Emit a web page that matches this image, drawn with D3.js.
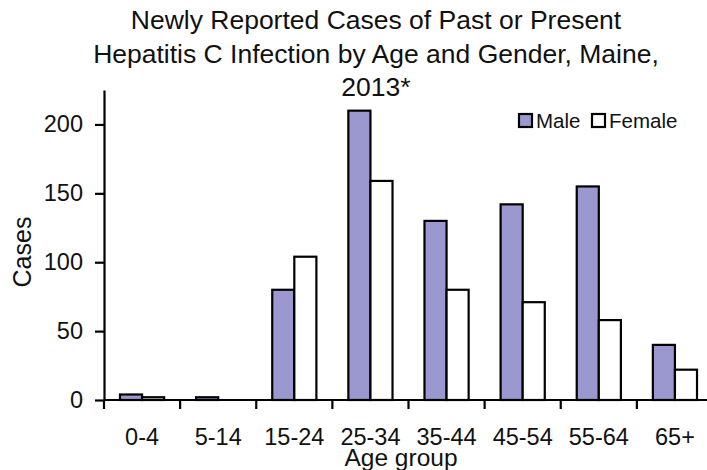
<!DOCTYPE html>
<html>
<head>
<meta charset="utf-8">
<script src="https://cdn.jsdelivr.net/npm/d3@7"></script>
<style>
  html, body { margin: 0; padding: 0; background: #ffffff; }
  svg { display: block; font-family: "Liberation Sans", Arial, sans-serif; }
</style>
</head>
<body>
<svg id="chart" width="707" height="470"></svg>
<script>
// Age groups and reported case counts by gender
const ageGroups = ["0-4", "5-14", "15-24", "25-34", "35-44", "45-54", "55-64", "65+"];
const maleCases = [4, 2, 80, 210, 130, 142, 155, 40];
const femaleCases = [2, 0, 104, 159, 80, 71, 58, 22];
const seriesNames = ["Male", "Female"];
const seriesColors = ["#9b98d0", "#ffffff"];
const yTicks = [0, 50, 100, 150, 200];
const titleLines = [
  "Newly Reported Cases of Past or Present",
  "Hepatitis C Infection by Age and Gender, Maine,",
  "2013*"
];

const svg = d3.select("#chart");

const plot = { left: 104, right: 713, top: 90, bottom: 400 };

const x0 = d3.scaleBand()
  .domain(ageGroups)
  .range([plot.left, plot.right])
  .paddingInner(0.42)
  .paddingOuter(0.21);

const x1 = d3.scaleBand()
  .domain(seriesNames)
  .range([0, x0.bandwidth()]);

const y = d3.scaleLinear()
  .domain([0, 225])
  .range([plot.bottom, plot.top]);

const color = d3.scaleOrdinal().domain(seriesNames).range(seriesColors);

const rows = ageGroups.map((g, i) => ({
  group: g,
  values: [
    { key: "Male", value: maleCases[i] },
    { key: "Female", value: femaleCases[i] }
  ]
}));

// Title
svg.append("g")
  .selectAll("text")
  .data(titleLines)
  .join("text")
  .attr("x", 376)
  .attr("y", (d, i) => 29 + i * 33.5)
  .attr("text-anchor", "middle")
  .attr("font-size", 26.5)
  .attr("fill", "#111")
  .text(d => d);

// Bars
svg.append("g")
  .selectAll("g")
  .data(rows)
  .join("g")
  .attr("transform", d => `translate(${x0(d.group)},0)`)
  .selectAll("rect")
  .data(d => d.values)
  .join("rect")
  .attr("x", d => x1(d.key))
  .attr("y", d => y(d.value))
  .attr("width", x1.bandwidth())
  .attr("height", d => y(0) - y(d.value))
  .attr("fill", d => color(d.key))
  .attr("stroke", "#000")
  .attr("stroke-width", 2.2);

// Y axis
const yAxis = svg.append("g")
  .attr("transform", `translate(${plot.left},0)`)
  .call(d3.axisLeft(y).tickValues(yTicks).tickSize(9).tickSizeOuter(0).tickPadding(12));
yAxis.select(".domain").attr("stroke", "#000").attr("stroke-width", 2.2);
yAxis.selectAll(".tick line").attr("stroke", "#000").attr("stroke-width", 2.2);
yAxis.selectAll(".tick text")
  .attr("font-size", 23.5)
  .attr("font-family", "Liberation Sans, Arial, sans-serif")
  .attr("fill", "#111");

// X axis: labels centred under each group, tick marks at group boundaries
const xAxis = svg.append("g")
  .attr("transform", `translate(0,${plot.bottom})`)
  .call(d3.axisBottom(x0).tickSize(0).tickSizeOuter(0).tickPadding(28));
xAxis.select(".domain").remove();
xAxis.selectAll(".tick text")
  .attr("font-size", 23.5)
  .attr("font-family", "Liberation Sans, Arial, sans-serif")
  .attr("fill", "#111");

const step = x0.step();
const boundaries = ageGroups.map((g, i) => plot.left + i * step);
const xLine = svg.append("g");
xLine.append("line")
  .attr("x1", plot.left).attr("x2", plot.right)
  .attr("y1", plot.bottom).attr("y2", plot.bottom)
  .attr("stroke", "#000").attr("stroke-width", 2.2);
xLine.selectAll("line.tick")
  .data(boundaries)
  .join("line")
  .attr("class", "tick")
  .attr("x1", d => d).attr("x2", d => d)
  .attr("y1", plot.bottom).attr("y2", plot.bottom + 9)
  .attr("stroke", "#000").attr("stroke-width", 2.2);

// Axis titles
svg.append("text")
  .attr("x", 401)
  .attr("y", 466)
  .attr("text-anchor", "middle")
  .attr("font-size", 24.5)
  .attr("fill", "#111")
  .text("Age group");

svg.append("text")
  .attr("transform", "translate(31,252) rotate(-90)")
  .attr("text-anchor", "middle")
  .attr("font-size", 25)
  .attr("fill", "#111")
  .text("Cases");

// Legend
const legend = svg.append("g").attr("transform", "translate(519,114)");
const legendItems = legend.selectAll("g")
  .data(seriesNames)
  .join("g")
  .attr("transform", (d, i) => `translate(${i * 73},0)`);
legendItems.append("rect")
  .attr("width", 13)
  .attr("height", 13)
  .attr("fill", d => color(d))
  .attr("stroke", "#000")
  .attr("stroke-width", 2.2);
legendItems.append("text")
  .attr("x", 17)
  .attr("y", 13.5)
  .attr("font-size", 20.5)
  .attr("fill", "#111")
  .text(d => d);
</script>
</body>
</html>
